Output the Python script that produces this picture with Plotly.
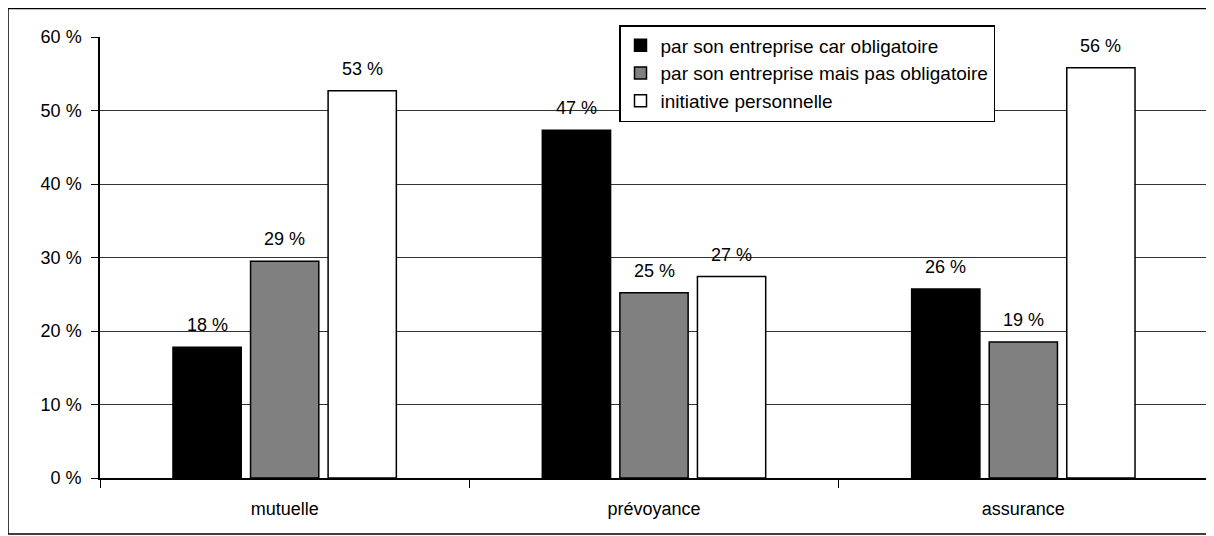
import plotly.graph_objects as go

# data
categories = ["mutuelle", "prévoyance", "assurance"]
series_names = [
    "par son entreprise car obligatoire",
    "par son entreprise mais pas obligatoire",
    "initiative personnelle",
]
obligatoire = [17.8, 47.3, 25.7]
pas_obligatoire = [29.5, 25.2, 18.5]
personnelle = [52.7, 27.4, 55.8]
labels_obligatoire = ["18 %", "47 %", "26 %"]
labels_pas_obligatoire = ["29 %", "25 %", "19 %"]
labels_personnelle = ["53 %", "27 %", "56 %"]
colors = ["#000000", "#808080", "#ffffff"]

# page body adds an 8px offset, so everything below is in figure coords
W, H = 1214, 536
L, R, T, B = 92, 14, 29, 66
pw, ph = W - L - R, H - T - B
BARGAP = 0.37
slot = pw / len(categories) * (1 - BARGAP) / 3   # px per bar slot in a group

fig = go.Figure()
series = list(zip(series_names,
                  [obligatoire, pas_obligatoire, personnelle],
                  [labels_obligatoire, labels_pas_obligatoire, labels_personnelle],
                  colors))
for i, (name, vals, labs, col) in enumerate(series):
    fig.add_trace(go.Bar(
        x=categories,
        y=vals,
        name=name,
        legendgroup=f"g{i}",
        marker=dict(color=col, line=dict(color="black", width=1.5)),
    ))
    # value labels, sitting a bit higher above the bars than plotly's own
    for cat, v, lab in zip(categories, vals, labs):
        fig.add_annotation(
            x=cat, y=v, text=lab, showarrow=False,
            xanchor="center", yanchor="bottom",
            xshift=(i - 1) * slot, yshift=10,
            font=dict(size=18, color="black"),
        )

# frame round the whole chart
fig.add_shape(
    type="rect", xref="paper", yref="paper",
    x0=(0 - L) / pw, x1=(1204 - L) / pw,
    y0=(H - B - 526) / ph, y1=(H - B - 0.5) / ph,
    line=dict(color="black", width=1.5), fillcolor="rgba(0,0,0,0)",
    layer="below",
)

fig.update_layout(
    width=W, height=H,
    margin=dict(l=L, r=R, t=T, b=B, pad=0),
    paper_bgcolor="white", plot_bgcolor="white",
    font=dict(family="Arial, 'Liberation Sans', sans-serif", size=18, color="black"),
    barmode="group",
    bargap=BARGAP,
    bargroupgap=0.12,
    showlegend=True,
    legend=dict(
        x=(611 - L) / pw, y=(H - B - 17) / ph,
        xanchor="left", yanchor="top",
        bgcolor="white", bordercolor="black", borderwidth=1.5,
        font=dict(size=19),
        traceorder="grouped",
        tracegroupgap=0,
        itemwidth=30,
    ),
    xaxis=dict(
        showline=True, linecolor="black", linewidth=1.5,
        ticks="outside", ticklen=8, tickcolor="black",
        tickson="boundaries", showgrid=False,
        ticklabelstandoff=14,
        tickfont=dict(size=18),
    ),
    yaxis=dict(
        range=[0, 60], dtick=10, ticksuffix=" %",
        showline=True, linecolor="black", linewidth=1.5,
        ticks="outside", ticklen=7, tickcolor="black",
        showgrid=True, gridcolor="#333333", gridwidth=1,
        zeroline=False, ticklabelstandoff=6,
        tickfont=dict(size=18),
    ),
)

fig.write_html("out.html")
